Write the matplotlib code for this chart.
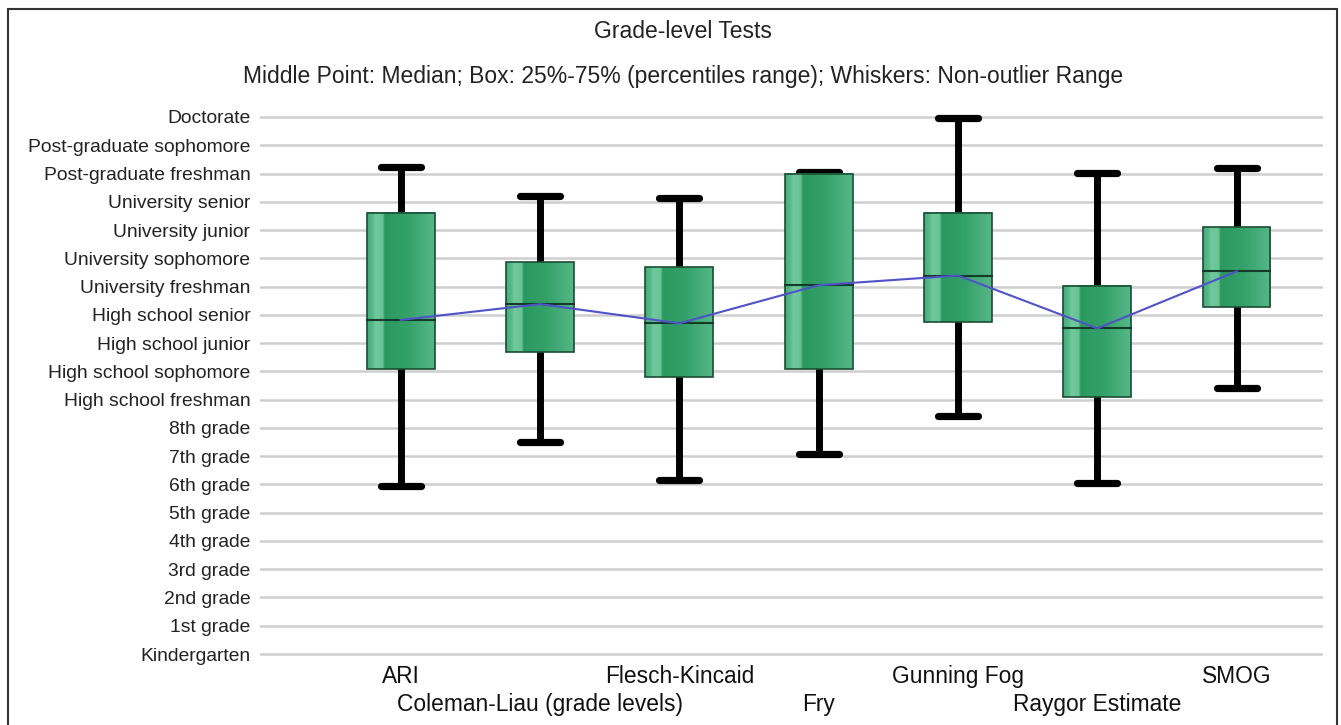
import numpy as np
import matplotlib
matplotlib.use("Agg")
import matplotlib.pyplot as plt
from matplotlib.patches import Rectangle
from matplotlib.colors import LinearSegmentedColormap

# ---- data ----
grade_levels = ["Kindergarten", "1st grade", "2nd grade", "3rd grade", "4th grade",
                "5th grade", "6th grade", "7th grade", "8th grade",
                "High school freshman", "High school sophomore", "High school junior",
                "High school senior", "University freshman", "University sophomore",
                "University junior", "University senior", "Post-graduate freshman",
                "Post-graduate sophomore", "Doctorate"]
tests = ["ARI", "Coleman-Liau (grade levels)", "Flesch-Kincaid", "Fry",
         "Gunning Fog", "Raygor Estimate", "SMOG"]
whisker_low = [5.96, 7.50, 6.16, 7.08, 8.42, 6.05, 9.42]
q1 = [10.08, 10.69, 9.79, 10.08, 11.74, 9.10, 12.29]
median = [11.82, 12.38, 11.70, 13.05, 13.39, 11.52, 13.54]
q3 = [15.60, 13.87, 13.68, 16.99, 15.62, 13.03, 15.10]
whisker_high = [17.23, 16.22, 16.12, 17.06, 18.97, 17.01, 17.21]

W, H = 1341, 725
fig = plt.figure(figsize=(W / 100, H / 100), dpi=100)
fig.patch.set_facecolor("white")

ax_left, ax_right = 260, 1323
ax_top, ax_bot = 108.5, 662.5
ax = fig.add_axes([ax_left / W, (H - ax_bot) / H, (ax_right - ax_left) / W, (ax_bot - ax_top) / H])
ax.set_xlim(-1.01, 6.62)
ax.set_ylim(-0.3, 19.3)
for s in ax.spines.values():
    s.set_visible(False)

ypos = np.arange(len(grade_levels))
ax.set_yticks(ypos)
ax.set_yticklabels(grade_levels, fontsize=13.9, family="Liberation Sans", color="#222222")
ax.tick_params(axis="y", length=0, pad=7)
for y in ypos:
    ax.axhline(y, color="#cfcfcf", lw=1.8, zorder=0)

xpos = np.arange(len(tests))
ax.set_xticks([])
for i, t in enumerate(tests):
    yoff = -0.8 if i % 2 == 0 else -1.77
    ax.text(i, yoff, t, ha="center", va="center", fontsize=16.4,
            family="Liberation Sans", color="#111111", clip_on=False)

box_w = 0.486
cap_w = 0.287
cmap = LinearSegmentedColormap.from_list("g", [
    (0.0, "#45ab79"), (0.09, "#5cbd8c"), (0.12, "#70c89c"), (0.23, "#6ac496"),
    (0.26, "#2a995f"), (0.6, "#35a16a"), (1.0, "#55b787")])
grad = np.linspace(0, 1, 256)[None, :]

for i in range(len(tests)):
    # whiskers (behind boxes)
    ax.plot([i, i], [whisker_low[i], whisker_high[i]], color="black", lw=5,
            solid_capstyle="butt", zorder=2)
    for yv in (whisker_low[i], whisker_high[i]):
        ax.plot([i - cap_w / 2, i + cap_w / 2], [yv, yv], color="black", lw=5.2,
                solid_capstyle="round", zorder=2)
    x0 = i - box_w / 2
    ax.imshow(grad, cmap=cmap, aspect="auto", extent=(x0, x0 + box_w, q1[i], q3[i]),
              zorder=3, interpolation="bilinear")
    ax.add_patch(Rectangle((x0, q1[i]), box_w, q3[i] - q1[i], fill=False,
                           edgecolor="#1b4d33", lw=1.2, zorder=4))
    ax.plot([x0, x0 + box_w], [median[i], median[i]], color="#143b28", lw=1.5, zorder=5)

ax.plot(xpos, median, color="#5052c8", lw=1.5, zorder=6)
ax.set_xlim(-1.01, 6.62)
ax.set_ylim(-0.3, 19.3)

fig.text(683 / W, 1 - 31 / H, "Grade-level Tests", ha="center", va="center",
         fontsize=16.5, family="Liberation Sans", color="#222222")
fig.text(683 / W, 1 - 77 / H,
         "Middle Point: Median; Box: 25%-75% (percentiles range); Whiskers: Non-outlier Range",
         ha="center", va="center", fontsize=16.5, family="Liberation Sans", color="#222222")

fig.add_artist(Rectangle((8 / W, -0.01), (1337 - 8) / W, 1 - 9 / H + 0.01,
                         transform=fig.transFigure, fill=False, edgecolor="#333333", lw=1.5))

fig.savefig("out.png", dpi=100, facecolor="white")
